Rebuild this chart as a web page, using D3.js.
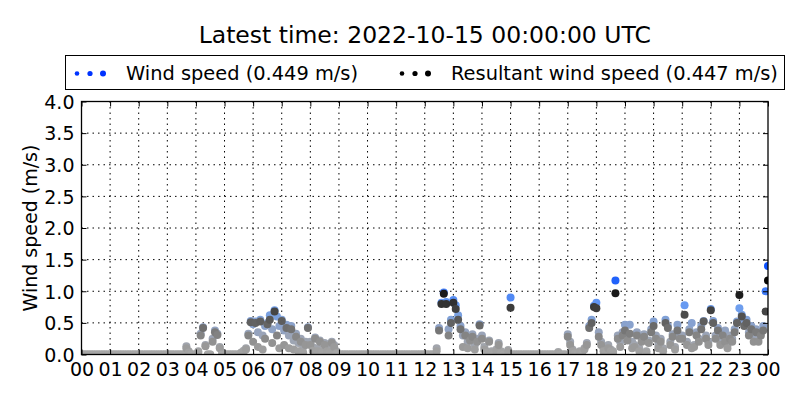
<!DOCTYPE html>
<html><head><meta charset="utf-8">
<script src="https://cdn.jsdelivr.net/npm/d3@7"></script>
<style>body{margin:0;background:#fff}svg{display:block;font-family:"DejaVu Sans",sans-serif}</style>
</head><body><svg id="c" width="800" height="400"></svg>
<script>
// 5-minute samples, 2022-10-14 00:00 UTC .. 2022-10-15 00:00 UTC (one row per hour)
const windSpeed = [
0,0,0,0,0,0,0,0,0,0,0,0,
0,0,0,0,0,0,0,0,0,0,0,0,
0,0,0,0,0,0,0,0,0,0,0,0,
0,0,0,0,0,0,0,0,0.13,0.05,0,0,
0,0.05,0.33,0.43,0.15,0,0,0.25,0.38,0.33,0.12,0.03,
0,0,0,0,0,0,0,0.03,0.06,0.1,0.33,0.53,
0.48,0.52,0.35,0.55,0.3,0.45,0.5,0.62,0.4,0.7,0.6,0.45,
0.55,0.38,0.47,0.3,0.45,0.22,0.33,0.18,0.25,0.12,0.2,0.43,
0.2,0.12,0.27,0.1,0.22,0.05,0.18,0.1,0.08,0.2,0.15,0.05,
0,0,0,0,0,0,0,0,0,0,0,0,
0,0,0,0,0,0,0,0,0,0,0,0,
0,0,0,0,0,0,0,0,0,0,0,0,
0,0,0,0,0,0.1,0.42,0.82,0.98,0.83,0.4,0.55,
0.86,0.78,0.62,0.45,0.3,0.35,0.2,0.28,0.32,0.15,0.25,0.48,
0.3,0.12,0.05,0.22,0.05,0,0.08,0.18,0.05,0,0,0.07,
0.9,0,0,0,0,0,0,0,0,0,0,0,
0,0,0,0,0,0,0,0,0.04,0,0,0,
0.32,0.2,0.08,0.03,0,0.05,0.02,0.1,0.18,0.45,0.55,0.77,
0.82,0.35,0.2,0.1,0.05,0.15,0.08,0.05,1.17,0.3,0.2,0.35,
0.47,0.3,0.47,0.2,0.15,0.35,0.1,0.25,0.32,0.05,0.22,0.4,
0.52,0.3,0.15,0.25,0.1,0.55,0.45,0.2,0.32,0.12,0.47,0.3,
0.3,0.78,0.2,0.4,0.5,0.15,0.35,0.25,0.45,0.53,0.3,0.2,
0.72,0.53,0.3,0.42,0.2,0.35,0.38,0.15,0.3,0.25,0.4,0.52,
0.73,0.63,0.5,0.55,0.35,0.45,0.3,0.4,0.25,0.35,0.45,1.0,
1.4];
const resultantSpeed = [
0,0,0,0,0,0,0,0,0,0,0,0,
0,0,0,0,0,0,0,0,0,0,0,0,
0,0,0,0,0,0,0,0,0,0,0,0,
0,0,0,0,0,0,0,0,0.1,0.03,0,0,
0,0.03,0.3,0.42,0.13,0,0,0.2,0.35,0.31,0.1,0,
0,0,0,0,0,0,0,0.02,0.04,0.08,0.3,0.51,
0.2,0.5,0.12,0.52,0.08,0.25,0.48,0.55,0.18,0.68,0.3,0.1,
0.53,0.15,0.42,0.1,0.4,0.08,0.28,0.05,0.2,0.03,0.15,0.42,
0.15,0.06,0.25,0.05,0.2,0.03,0.15,0.05,0.04,0.18,0.12,0.02,
0,0,0,0,0,0,0,0,0,0,0,0,
0,0,0,0,0,0,0,0,0,0,0,0,
0,0,0,0,0,0,0,0,0,0,0,0,
0,0,0,0,0,0.05,0.38,0.8,0.96,0.8,0.3,0.5,
0.82,0.72,0.55,0.4,0.12,0.3,0.1,0.22,0.28,0.08,0.2,0.46,
0.25,0.08,0.03,0.2,0.02,0,0.05,0.15,0.02,0,0,0.05,
0.74,0,0,0,0,0,0,0,0,0,0,0,
0,0,0,0,0,0,0,0,0.02,0,0,0,
0.28,0.15,0.05,0.02,0,0.03,0.01,0.08,0.15,0.42,0.5,0.75,
0.73,0.28,0.15,0.05,0.03,0.1,0.05,0.03,0.97,0.25,0.12,0.3,
0.38,0.22,0.33,0.1,0.12,0.3,0.05,0.2,0.28,0.02,0.18,0.35,
0.45,0.25,0.1,0.2,0.05,0.5,0.42,0.15,0.28,0.08,0.38,0.25,
0.25,0.63,0.15,0.35,0.1,0.12,0.3,0.2,0.4,0.52,0.25,0.15,
0.7,0.5,0.25,0.38,0.15,0.3,0.2,0.1,0.25,0.2,0.35,0.5,
0.94,0.6,0.45,0.5,0.3,0.4,0.2,0.35,0.2,0.3,0.38,0.68,
1.17];
const hourTickLabels = ["00","01","02","03","04","05","06","07","08","09","10","11","12","13","14","15","16","17","18","19","20","21","22","23","00"];
const yTickValues = [0,0.5,1.0,1.5,2.0,2.5,3.0,3.5,4.0];
const titleText = "Latest time: 2022-10-15 00:00:00 UTC";
const legendLabels = ["Wind speed (0.449 m/s)", "Resultant wind speed (0.447 m/s)"];
const yLabel = "Wind speed (m/s)";

const svg = d3.select("#c");
const L = 81.5, R = 768, T = 101.5, B = 354.5;
const start = new Date(Date.UTC(2022, 9, 14, 0, 0));
const end = new Date(Date.UTC(2022, 9, 15, 0, 0));
const x = d3.scaleUtc().domain([start, end]).range([L, R]);
const y = d3.scaleLinear().domain([0, 4]).range([B, T]);
const t = i => d3.utcMinute.offset(start, i * 5);
const hourTicks = hourTickLabels.map((_, i) => d3.utcHour.offset(start, i));

const windColor = d3.scaleLinear().domain([0, 0.3, 0.75, 1.3]).range(["#a6a6a6", "#9aa4b8", "#6c9ef0", "#0a50ff"]).clamp(true);
const resColor = d3.scaleLinear().domain([0, 0.25, 0.6, 1.1]).range(["#a6a6a6", "#8c8c8c", "#515151", "#050505"]).clamp(true);

// title
svg.append("text").attr("x", (L + R) / 2).attr("y", 43).attr("text-anchor", "middle")
  .attr("font-size", 23.5).text(titleText);

// legend
svg.append("rect").attr("x", 65.5).attr("y", 55.5).attr("width", 719).attr("height", 34)
  .attr("fill", "#fff").attr("stroke", "#000").attr("stroke-width", 1);
const legItems = [{c: "#0033ff", x0: 77, tx: 126}, {c: "#000", x0: 402, tx: 451}];
legItems.forEach((it, k) => {
  [2.3, 2.6, 3.0].forEach((r, j) => svg.append("circle").attr("cx", it.x0 + j * 13).attr("cy", 73.5).attr("r", r).attr("fill", it.c));
  svg.append("text").attr("x", it.tx).attr("y", 79.5).attr("font-size", 19.4).text(legendLabels[k]);
});

// grid
const grid = svg.append("g").attr("stroke", "#000").attr("stroke-width", 1).attr("stroke-dasharray", "1.5,4");
hourTicks.slice(1, -1).forEach(d => grid.append("line").attr("x1", x(d)).attr("x2", x(d)).attr("y1", T).attr("y2", B));
yTickValues.slice(1, -1).forEach(v => grid.append("line").attr("x1", L).attr("x2", R).attr("y1", y(v)).attr("y2", y(v)));

// points
svg.append("clipPath").attr("id", "clip").append("rect").attr("x", L).attr("y", T).attr("width", R - L).attr("height", B - T);
const pts = svg.append("g").attr("clip-path", "url(#clip)");
pts.selectAll(".w").data(windSpeed).join("circle").attr("class", "w")
  .attr("cx", (d, i) => x(t(i))).attr("cy", d => y(d)).attr("r", 4).attr("fill", d => windColor(d));
pts.selectAll(".r").data(resultantSpeed).join("circle").attr("class", "r")
  .attr("cx", (d, i) => x(t(i))).attr("cy", d => y(d)).attr("r", 4).attr("fill", d => resColor(d));

// axes
const xa = svg.append("g").attr("transform", `translate(0,${B})`)
  .call(d3.axisBottom(x).tickValues(hourTicks).tickFormat((d, i) => hourTickLabels[i]).tickSizeInner(-5).tickSizeOuter(0).tickPadding(8));
const xt = svg.append("g").attr("transform", `translate(0,${T})`)
  .call(d3.axisTop(x).tickValues(hourTicks).tickFormat("").tickSizeInner(-5).tickSizeOuter(0));
const ya = svg.append("g").attr("transform", `translate(${L},0)`)
  .call(d3.axisLeft(y).tickValues(yTickValues).tickFormat(d3.format(".1f")).tickSizeInner(-5).tickSizeOuter(0).tickPadding(7));
const yr = svg.append("g").attr("transform", `translate(${R},0)`)
  .call(d3.axisRight(y).tickValues(yTickValues).tickFormat("").tickSizeInner(-5).tickSizeOuter(0));
[xa, xt, ya, yr].forEach(g => { g.select(".domain").remove(); g.selectAll("text").attr("font-size", 19).attr("font-family", "DejaVu Sans").attr("fill", "#000"); g.selectAll("line").attr("stroke", "#000"); });
ya.selectAll("text").attr("dy", "0.36em");
xa.selectAll("text").attr("dy", "0.72em");

svg.append("rect").attr("x", L).attr("y", T).attr("width", R - L).attr("height", B - T)
  .attr("fill", "none").attr("stroke", "#000").attr("stroke-width", 1.3);

svg.append("text").attr("transform", `translate(37,${(T + B) / 2}) rotate(-90)`).attr("text-anchor", "middle")
  .attr("font-size", 19).text(yLabel);
</script></body></html>
